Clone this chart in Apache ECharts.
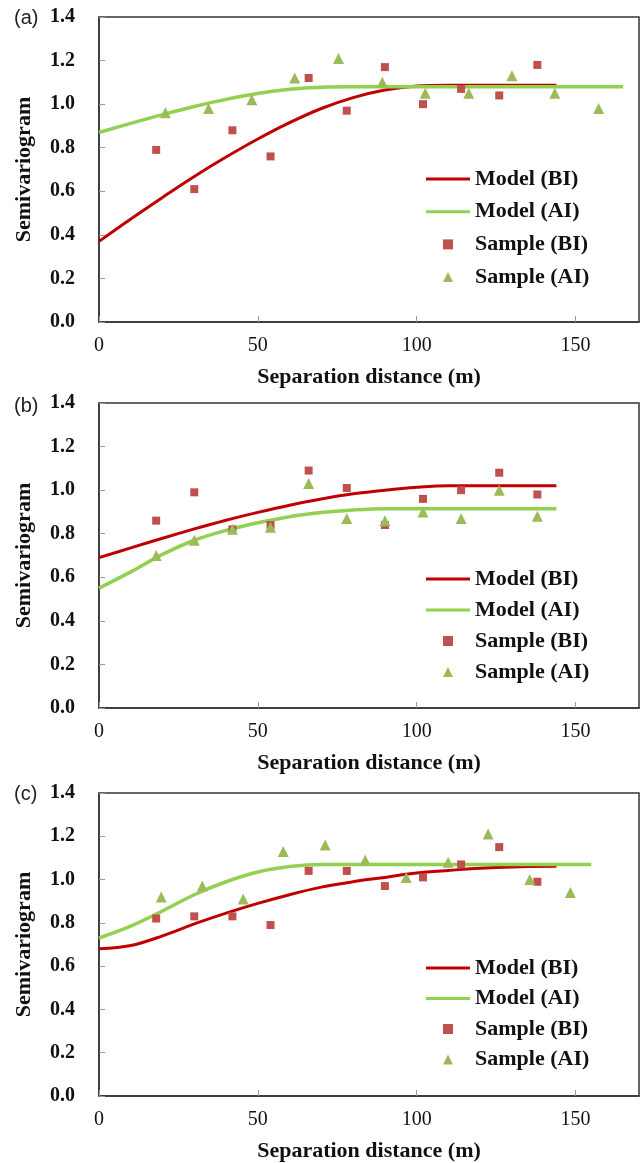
<!DOCTYPE html>
<html>
<head>
<meta charset="utf-8">
<script src="https://cdn.jsdelivr.net/npm/echarts@6/dist/echarts.min.js"></script>
<style>
  html, body { margin: 0; padding: 0; background: #fff; }
  #chart { width: 642px; height: 1163px; }
</style>
</head>
<body>
<div id="chart"></div>
<script>
// sample lags (m)
const lagBI = [18, 30, 42, 54, 66, 78, 90, 102, 114, 126, 138];
const lagAI_a = [20.9, 34.5, 48.1, 61.6, 75.4, 89.2, 102.7, 116.4, 130, 143.5, 157.3];
const lagAI_b = [18, 30, 42, 54, 66, 78, 90, 102, 114, 126, 138];
const lagAI_c = [19.6, 32.5, 45.4, 58, 71.2, 83.8, 96.7, 109.9, 122.5, 135.6, 148.4];

// sample semivariogram values
const sampleBI_a = [0.79, 0.61, 0.88, 0.76, 1.12, 0.97, 1.17, 1.00, 1.07, 1.04, 1.18];
const sampleAI_a = [0.96, 0.98, 1.02, 1.12, 1.21, 1.10, 1.05, 1.05, 1.13, 1.05, 0.98];
const sampleBI_b = [0.86, 0.99, 0.82, 0.84, 1.09, 1.01, 0.84, 0.96, 1.00, 1.08, 0.98];
const sampleAI_b = [0.70, 0.77, 0.82, 0.83, 1.03, 0.87, 0.86, 0.90, 0.87, 1.00, 0.88];
const sampleBI_c = [0.82, 0.83, 0.83, 0.79, 1.04, 1.04, 0.97, 1.01, 1.07, 1.15, 0.99];
const sampleAI_c = [0.92, 0.97, 0.91, 1.13, 1.16, 1.09, 1.01, 1.08, 1.21, 1.00, 0.94];

// fitted model curves
const modelBIx_a = [0, 10, 20, 30, 40, 50, 60, 70, 80, 90, 100, 110, 144];
const modelBIy_a = [0.37, 0.473, 0.572, 0.668, 0.757, 0.84, 0.915, 0.98, 1.03, 1.065, 1.083, 1.087, 1.087];
const modelAIx_a = [0, 10, 20, 30, 40, 50, 60, 70, 80, 165];
const modelAIy_a = [0.87, 0.912, 0.952, 0.989, 1.022, 1.049, 1.068, 1.078, 1.08, 1.08];

const modelBIx_b = [0, 10, 20, 30, 40, 50, 60, 70, 80, 90, 100, 110, 144];
const modelBIy_b = [0.69, 0.735, 0.779, 0.822, 0.862, 0.898, 0.931, 0.959, 0.983, 1.0, 1.013, 1.02, 1.02];
const modelAIx_b = [0, 10, 20, 30, 40, 50, 60, 70, 80, 90, 144];
const modelAIy_b = [0.55, 0.625, 0.705, 0.77, 0.815, 0.85, 0.878, 0.897, 0.909, 0.915, 0.915];

const modelBIx_c = [0, 10, 20, 30, 40, 50, 60, 70, 80, 90, 100, 110, 120, 130, 144];
const modelBIy_c = [0.68, 0.695, 0.74, 0.795, 0.845, 0.89, 0.93, 0.965, 0.99, 1.01, 1.03, 1.042, 1.052, 1.058, 1.062];
const modelAIx_c = [0, 10, 20, 30, 40, 50, 60, 70, 80, 155];
const modelAIy_c = [0.73, 0.785, 0.855, 0.93, 0.99, 1.035, 1.06, 1.07, 1.07, 1.07];

const panelLabels = ['(a)', '(b)', '(c)'];

const panels = [
  { top: 17, label: 8, legendTop: 167, legendGap: 8.7,
    bi: [modelBIx_a, modelBIy_a], ai: [modelAIx_a, modelAIy_a],
    sBI: [lagBI, sampleBI_a], sAI: [lagAI_a, sampleAI_a] },
  { top: 403, label: 396, legendTop: 567, legendGap: 7,
    bi: [modelBIx_b, modelBIy_b], ai: [modelAIx_b, modelAIy_b],
    sBI: [lagBI, sampleBI_b], sAI: [lagAI_b, sampleAI_b] },
  { top: 793, label: 784, legendTop: 956, legendGap: 6.5,
    bi: [modelBIx_c, modelBIy_c], ai: [modelAIx_c, modelAIy_c],
    sBI: [lagBI, sampleBI_c], sAI: [lagAI_c, sampleAI_c] },
];

const SERIF = "'Liberation Serif', 'Times New Roman', serif";
const legendText = { fontFamily: SERIF, fontSize: 22, fontWeight: 'bold', color: '#111', lineHeight: 24 };
const zip = (xs, ys) => xs.map((x, i) => [x, ys[i]]);

const chart = echarts.init(document.getElementById('chart'), null, { renderer: 'canvas' });

const grids = [], xAxes = [], yAxes = [], series = [], legends = [], titles = [];

panels.forEach((p, i) => {
  grids.push({
    left: 99, right: 3, top: p.top, height: 305,
    show: true, borderColor: '#333', borderWidth: 1.5, backgroundColor: 'transparent'
  });
  xAxes.push({
    gridIndex: i, type: 'value', min: 0, max: 170, interval: 50,
    axisLine: { show: true, lineStyle: { color: '#333', width: 1.5 } },
    axisTick: { show: true, inside: true, length: 6, lineStyle: { color: '#999' } },
    axisLabel: { fontFamily: SERIF, fontSize: 20, color: '#111', margin: 14, showMaxLabel: false },
    splitLine: { show: false },
    name: 'Separation distance (m)', nameLocation: 'middle', nameGap: 44,
    nameTextStyle: { fontFamily: SERIF, fontSize: 22, fontWeight: 'bold', color: '#111', lineHeight: 22 }
  });
  yAxes.push({
    gridIndex: i, type: 'value', min: 0, max: 1.4, interval: 0.2,
    axisLine: { show: true, lineStyle: { color: '#333', width: 1.5 } },
    axisTick: { show: true, inside: true, length: 6, lineStyle: { color: '#999' } },
    axisLabel: {
      fontFamily: SERIF, fontSize: 20, fontWeight: 'bold', color: '#111', margin: 24,
      formatter: v => v.toFixed(1)
    },
    splitLine: { show: false },
    name: 'Semivariogram', nameLocation: 'middle', nameGap: 64,
    nameTextStyle: { fontFamily: SERIF, fontSize: 22, fontWeight: 'bold', color: '#111' }
  });
  series.push(
    {
      name: 'Model (BI)', type: 'line', xAxisIndex: i, yAxisIndex: i,
      data: zip(p.bi[0], p.bi[1]), symbol: 'none', smooth: 0.35,
      lineStyle: { color: '#C00000', width: 3 }, itemStyle: { color: '#C00000' }, z: 2
    },
    {
      name: 'Model (AI)', type: 'line', xAxisIndex: i, yAxisIndex: i,
      data: zip(p.ai[0], p.ai[1]), symbol: 'none', smooth: 0.35,
      lineStyle: { color: '#92D050', width: 3.5 }, itemStyle: { color: '#92D050' }, z: 2
    },
    {
      name: 'Sample (BI)', type: 'scatter', xAxisIndex: i, yAxisIndex: i,
      data: zip(p.sBI[0], p.sBI[1]), symbol: 'rect', symbolSize: 8,
      itemStyle: { color: '#C0504D', opacity: 1 }, z: 3
    },
    {
      name: 'Sample (AI)', type: 'scatter', xAxisIndex: i, yAxisIndex: i,
      data: zip(p.sAI[0], p.sAI[1]), symbol: 'triangle', symbolSize: 11,
      itemStyle: { color: '#9BBB59', opacity: 1 }, z: 3
    }
  );
  // model lines: thin stretched rects
  legends.push({
    data: [
      { name: 'Model (BI)', icon: 'rect', itemStyle: { color: '#C00000' } },
      { name: 'Model (AI)', icon: 'rect', itemStyle: { color: '#92D050' } }
    ],
    orient: 'vertical', left: 426, top: p.legendTop, padding: 0,
    itemWidth: 44, itemHeight: 3, itemGap: p.legendGap, selectedMode: false,
    textStyle: legendText
  });
  // sample markers: small icons, text pushed right to line up
  legends.push({
    data: [
      { name: 'Sample (BI)', icon: 'rect', itemStyle: { color: '#C0504D' } },
      { name: 'Sample (AI)', icon: 'triangle', itemStyle: { color: '#9BBB59' } }
    ],
    orient: 'vertical', left: 443, top: p.legendTop + 2 * (24 + p.legendGap), padding: 0,
    itemWidth: 10, itemHeight: 10, itemGap: p.legendGap, selectedMode: false,
    textStyle: Object.assign({}, legendText, { padding: [0, 0, 0, 17] })
  });
  titles.push({
    text: panelLabels[i], left: 14, top: p.label, padding: 0,
    textStyle: { fontFamily: "'Liberation Sans', Arial, sans-serif", fontSize: 20, fontWeight: 'normal', color: '#222' }
  });
});

chart.setOption({
  backgroundColor: '#fff',
  animation: false,
  title: titles,
  legend: legends,
  grid: grids,
  xAxis: xAxes,
  yAxis: yAxes,
  series: series
});
</script>
</body>
</html>
